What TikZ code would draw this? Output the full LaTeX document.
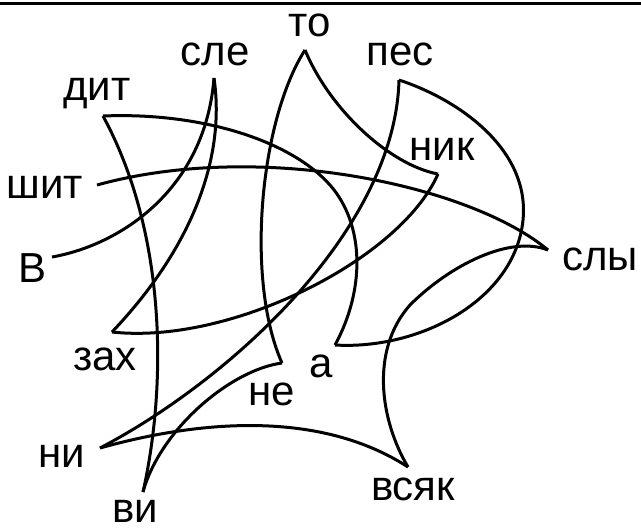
\documentclass[tikz,border=0pt]{standalone}
\usepackage{fontspec}
\setmainfont{Liberation Sans}
\tikzset{word/.style={font=\fontsize{21}{25}\selectfont, anchor=base, inner sep=0pt},
	chain/.style={line width=1.5pt, line join=miter}}

\begin{document}
\begin{tikzpicture} [x=0.5pt,y=-0.5pt]
		\useasboundingbox (0,0) rectangle (641,531);
		\draw[line width=1.5pt] (0,3.5) -- (641,3.5);
		% cusps
		\coordinate (V) at (52,257);
		\coordinate (sle) at (214,78);
		\coordinate (zah) at (112,332);
		\coordinate (nik) at (438,174);
		\coordinate (to) at (305,50);
		\coordinate (ne) at (282,363);
		\coordinate (vi) at (143,492);
		\coordinate (dit) at (103,116);
		\coordinate (a) at (335,345);
		\coordinate (pes) at (399,80);
		\coordinate (ni) at (100,448);
		\coordinate (vsyak) at (408,467);
		\coordinate (sly) at (548,250);
		\coordinate (shit) at (97,185);
		% words
		\node[word] (lV) at (33,282) {В};
		\node[word] (lsle) at (215,65) {сле};
		\node[word] (lzah) at (105,370) {зах};
		\node[word] (lnik) at (442,160) {ник};
		\node[word] (lto) at (310,36) {то};
		\node[word] (lne) at (272,405) {не};
		\node[word] (lvi) at (135,522) {ви};
		\node[word] (ldit) at (97,100) {дит};
		\node[word] (la) at (321,377) {а};
		\node[word] (lpes) at (400,65) {пес};
		\node[word] (lni) at (62,467) {ни};
		\node[word] (lvsyak) at (413,500) {всяк};
		\node[word] (lsly) at (600,270) {слы};
		\node[word] (lshit) at (45,198) {шит};
		% the chain
		\draw[chain] (V) .. controls (120,245) and (205,190) .. (sle);
		\draw[chain] (sle) .. controls (226,160) and (190,250) .. (zah);
		\draw[chain] (zah) .. controls (230,345) and (400,260) .. (nik);
		\draw[chain] (nik) .. controls (390,165) and (330,110) .. (to);
		\draw[chain] (to) .. controls (260,120) and (245,280) .. (ne);
		\draw[chain] (ne) .. controls (230,370) and (160,430) .. (vi);
		\draw[chain] (vi) .. controls (168,380) and (165,230) .. (dit);
		\draw[chain] (dit) .. controls (200,112) and (290,140) .. (330,185) .. controls (365,225) and (365,290) .. (a);
		\draw[chain] (a) .. controls (420,350) and (515,300) .. (523,220) .. controls (530,150) and (460,100) .. (pes);
		\draw[chain] (pes) .. controls (395,230) and (230,380) .. (ni);
		\draw[chain] (ni) .. controls (200,420) and (320,410) .. (vsyak);
		\draw[chain] (vsyak) .. controls (380,420) and (370,350) .. (410,305) .. controls (450,265) and (510,235) .. (sly);
		\draw[chain] (sly) .. controls (470,185) and (260,140) .. (shit);
		\end{tikzpicture}
\end{document}
